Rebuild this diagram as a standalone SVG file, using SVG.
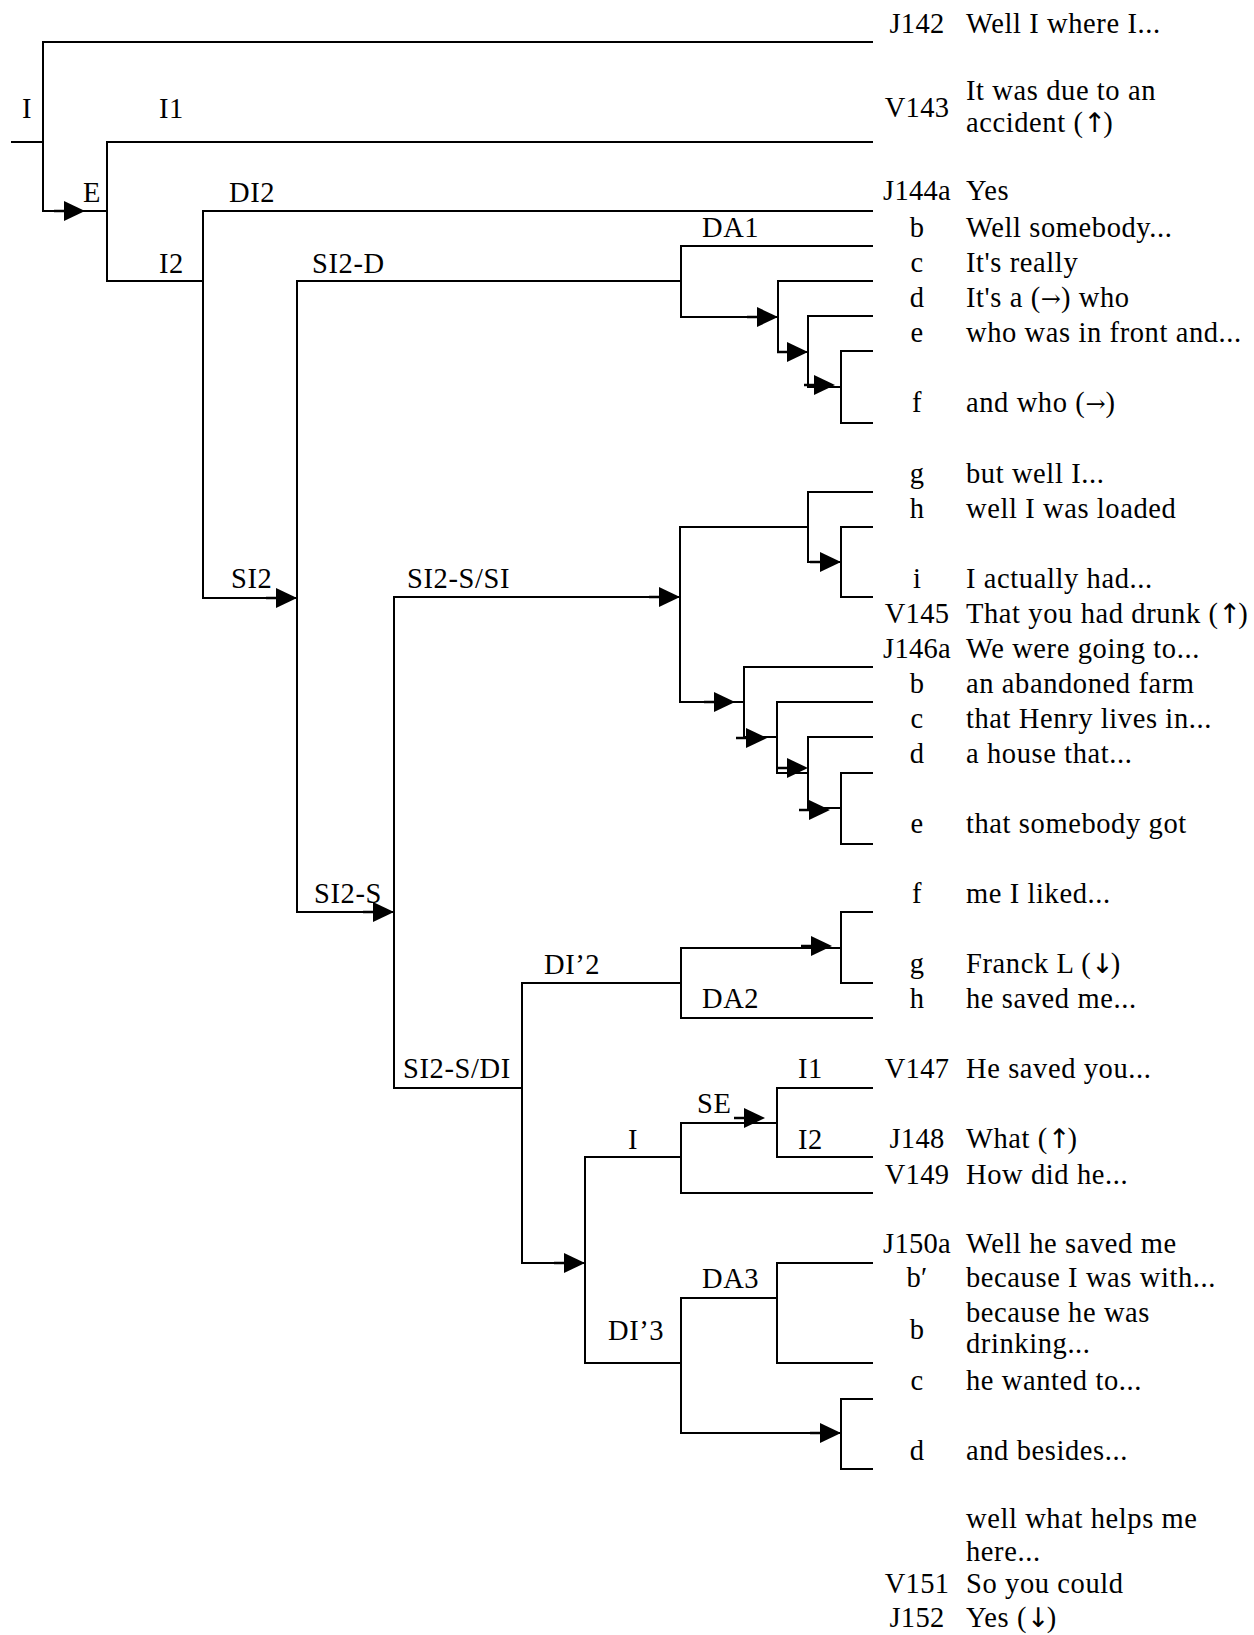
<svg xmlns="http://www.w3.org/2000/svg" xmlns:xlink="http://www.w3.org/1999/xlink" width="1254" height="1635" viewBox="0 0 1254 1635">
<style>
.t{font-family:"Liberation Serif","Times New Roman",serif;font-size:28.5px;letter-spacing:0.6px;fill:#000}
.lb{text-anchor:middle;letter-spacing:0.3px}
.ar{font-family:"DejaVu Serif",serif;font-size:24px;letter-spacing:0}
.av{font-family:"DejaVu Sans",sans-serif;font-size:27px;letter-spacing:-3px}
.c{fill:none;stroke:#000;stroke-width:2}
</style>
<defs>
<g id="ah"><path d="M-31,0 H-19" stroke="#000" stroke-width="2.5"/><polygon points="-21,-10 0,0 -21,10" fill="#000"/></g>
</defs>
<rect width="1254" height="1635" fill="#fff"/>
<g id="connectors">
<path class="c" d="M11,142 H43"/>
<path class="c" d="M873,42 H43 V211 H107"/>
<path class="c" d="M873,142 H107 V281 H203"/>
<path class="c" d="M873,211 H203 V598 H297"/>
<path class="c" d="M681,281 H297 V912 H394"/>
<path class="c" d="M873,246 H681 V317 H778"/>
<path class="c" d="M873,281 H778 V352 H808"/>
<path class="c" d="M873,316 H808 V387 H841"/>
<path class="c" d="M873,351 H841 V423 H873"/>
<path class="c" d="M680,597 H394 V1088 H522"/>
<path class="c" d="M808,527 H680 V702 H744"/>
<path class="c" d="M873,492 H808 V562 H841"/>
<path class="c" d="M873,527 H841 V597 H873"/>
<path class="c" d="M873,667 H744 V737 H777"/>
<path class="c" d="M873,702 H777 V773 H808"/>
<path class="c" d="M873,737 H808 V808 H841"/>
<path class="c" d="M873,773 H841 V844 H873"/>
<path class="c" d="M681,983 H522 V1263 H585"/>
<path class="c" d="M841,948 H681 V1018 H873"/>
<path class="c" d="M873,912 H841 V983 H873"/>
<path class="c" d="M681,1157 H585 V1363 H681"/>
<path class="c" d="M777,1123 H681 V1193 H873"/>
<path class="c" d="M873,1088 H777 V1157 H873"/>
<path class="c" d="M777,1298 H681 V1433 H841"/>
<path class="c" d="M873,1263 H777 V1363 H873"/>
<path class="c" d="M873,1399 H841 V1469 H873"/>
<use xlink:href="#ah" x="85" y="211"/>
<use xlink:href="#ah" x="297" y="598"/>
<use xlink:href="#ah" x="394" y="912"/>
<use xlink:href="#ah" x="778" y="317"/>
<use xlink:href="#ah" x="808" y="352"/>
<use xlink:href="#ah" x="835" y="385"/>
<use xlink:href="#ah" x="680" y="597"/>
<use xlink:href="#ah" x="841" y="562"/>
<use xlink:href="#ah" x="735" y="702"/>
<use xlink:href="#ah" x="767" y="738"/>
<use xlink:href="#ah" x="808" y="768"/>
<use xlink:href="#ah" x="830" y="810"/>
<use xlink:href="#ah" x="832" y="946"/>
<use xlink:href="#ah" x="585" y="1263"/>
<use xlink:href="#ah" x="765" y="1118"/>
<use xlink:href="#ah" x="841" y="1433"/>
</g>
<g id="tree-labels" class="t">
<text x="22" y="118">I</text>
<text x="159" y="118">I1</text>
<text x="83" y="202">E</text>
<text x="229" y="202">DI2</text>
<text x="159" y="273">I2</text>
<text x="312" y="273">SI2-D</text>
<text x="702" y="237">DA1</text>
<text x="231" y="588">SI2</text>
<text x="407" y="588">SI2-S/SI</text>
<text x="314" y="903">SI2-S</text>
<text x="544" y="974">DI’2</text>
<text x="702" y="1008">DA2</text>
<text x="403" y="1078">SI2-S/DI</text>
<text x="798" y="1078">I1</text>
<text x="697" y="1113">SE</text>
<text x="628" y="1149">I</text>
<text x="798" y="1149">I2</text>
<text x="702" y="1288">DA3</text>
<text x="608" y="1340">DI’3</text>
</g>
<g id="turns" class="t">
<g id="r-J142"><text class="lb" x="917" y="33">J142</text><text x="966" y="33">Well I where I...</text></g>
<g id="r-V143"><text class="lb" x="917" y="117">V143</text><text x="966" y="100">It was due to an</text><text x="966" y="132">accident (<tspan class="av">↑</tspan>)</text></g>
<g id="r-J144a"><text class="lb" x="917" y="200">J144a</text><text x="966" y="200">Yes</text></g>
<g id="r-J144b"><text class="lb" x="917" y="237">b</text><text x="966" y="237">Well somebody...</text></g>
<g id="r-J144c"><text class="lb" x="917" y="272">c</text><text x="966" y="272">It's really</text></g>
<g id="r-J144d"><text class="lb" x="917" y="307">d</text><text x="966" y="307">It's a (<tspan class="ar">→</tspan>) who</text></g>
<g id="r-J144e"><text class="lb" x="917" y="342">e</text><text x="966" y="342">who was in front and...</text></g>
<g id="r-J144f"><text class="lb" x="917" y="412">f</text><text x="966" y="412">and who (<tspan class="ar">→</tspan>)</text></g>
<g id="r-J144g"><text class="lb" x="917" y="483">g</text><text x="966" y="483">but well I...</text></g>
<g id="r-J144h"><text class="lb" x="917" y="518">h</text><text x="966" y="518">well I was loaded</text></g>
<g id="r-J144i"><text class="lb" x="917" y="588">i</text><text x="966" y="588">I actually had...</text></g>
<g id="r-V145"><text class="lb" x="917" y="623">V145</text><text x="966" y="623">That you had drunk (<tspan class="av">↑</tspan>)</text></g>
<g id="r-J146a"><text class="lb" x="917" y="658">J146a</text><text x="966" y="658">We were going to...</text></g>
<g id="r-J146b"><text class="lb" x="917" y="693">b</text><text x="966" y="693">an abandoned farm</text></g>
<g id="r-J146c"><text class="lb" x="917" y="728">c</text><text x="966" y="728">that Henry lives in...</text></g>
<g id="r-J146d"><text class="lb" x="917" y="763">d</text><text x="966" y="763">a house that...</text></g>
<g id="r-J146e"><text class="lb" x="917" y="833">e</text><text x="966" y="833">that somebody got</text></g>
<g id="r-J146f"><text class="lb" x="917" y="903">f</text><text x="966" y="903">me I liked...</text></g>
<g id="r-J146g"><text class="lb" x="917" y="973">g</text><text x="966" y="973">Franck L (<tspan class="av">↓</tspan>)</text></g>
<g id="r-J146h"><text class="lb" x="917" y="1008">h</text><text x="966" y="1008">he saved me...</text></g>
<g id="r-V147"><text class="lb" x="917" y="1078">V147</text><text x="966" y="1078">He saved you...</text></g>
<g id="r-J148"><text class="lb" x="917" y="1148">J148</text><text x="966" y="1148">What (<tspan class="av">↑</tspan>)</text></g>
<g id="r-V149"><text class="lb" x="917" y="1184">V149</text><text x="966" y="1184">How did he...</text></g>
<g id="r-J150a"><text class="lb" x="917" y="1253">J150a</text><text x="966" y="1253">Well he saved me</text></g>
<g id="r-J150b1"><text class="lb" x="917" y="1287">b′</text><text x="966" y="1287">because I was with...</text></g>
<g id="r-J150b"><text class="lb" x="917" y="1339">b</text><text x="966" y="1322">because he was</text><text x="966" y="1353">drinking...</text></g>
<g id="r-J150c"><text class="lb" x="917" y="1390">c</text><text x="966" y="1390">he wanted to...</text></g>
<g id="r-J150d"><text class="lb" x="917" y="1460">d</text><text x="966" y="1460">and besides...</text></g>
<g id="r-J150e"><text x="966" y="1528">well what helps me</text><text x="966" y="1561">here...</text></g>
<g id="r-V151"><text class="lb" x="917" y="1593">V151</text><text x="966" y="1593">So you could</text></g>
<g id="r-J152"><text class="lb" x="917" y="1627">J152</text><text x="966" y="1627">Yes (<tspan class="av">↓</tspan>)</text></g>
</g>
</svg>
